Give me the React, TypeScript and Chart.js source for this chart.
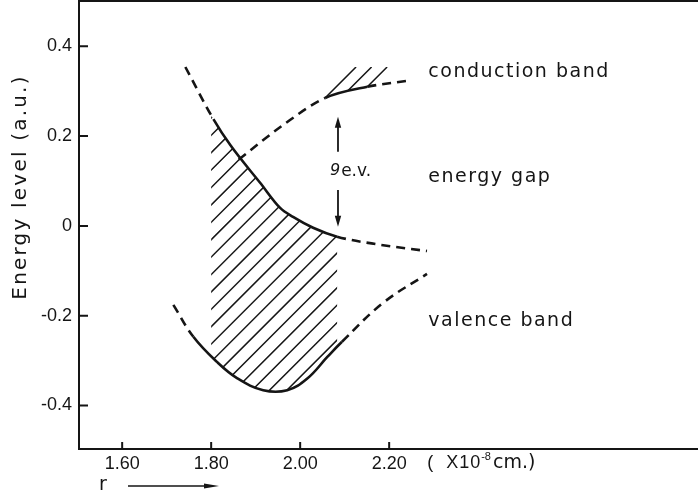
import React, { useEffect, useRef } from 'react';
import { Chart, registerables } from 'chart.js';

Chart.register(...registerables);

// ---- data ----
// upper curve: top edge of the filled (valence) band, falling with r
const upperX = [1.742, 1.805, 1.843, 1.910, 1.955, 1.984, 2.029, 2.083, 2.180, 2.285];
const upperY = [0.354, 0.238, 0.180, 0.096, 0.040, 0.020, -0.004, -0.024, -0.042, -0.056];
const upperSolid = [1, 7];

// conduction band lower edge
const condX = [1.862, 1.962, 2.056, 2.151, 2.240];
const condY = [0.148, 0.225, 0.285, 0.310, 0.323];
const condSolid = [2, 3];

// valence band lower edge (U shape)
const valX = [1.715, 1.760, 1.813, 1.858, 1.917, 1.971, 2.016, 2.061, 2.094, 2.187, 2.285];
const valY = [-0.176, -0.247, -0.303, -0.339, -0.366, -0.366, -0.340, -0.292, -0.258, -0.171, -0.107];
const valSolid = [1, 8];

// shaded region between the curves
const hatchRange = [1.80, 2.083];
const condHatchTop = 0.354;

const xTicks = [1.6, 1.8, 2.0, 2.2];
const xTickLabels = ['1.60', '1.80', '2.00', '2.20'];
const yTicks = [-0.4, -0.2, 0, 0.2, 0.4];
const yTickLabels = ['-0.4', '-0.2', '0', '0.2', '0.4'];

const bandLabels = ['conduction band', 'energy gap', 'valence band'];
const bandLabelX = [2.288, 2.288, 2.288];
const bandLabelY = [0.332, 0.098, -0.224];
const gapLabel = 'e.v.';
const gapValue = '9';

// ---- layout / style ----
const W = 698;
const H = 499;
const X_MIN = 1.503;
const X_MAX = 2.894;
const Y_MIN = -0.497;
const Y_MAX = 0.501;
const INK = '#151515';
const LETTER = '"DejaVu Sans", "Liberation Sans", sans-serif';
const TICKFONT = '"Liberation Sans Narrow", "Liberation Sans", sans-serif';
const DASH = [9, 6];
const HATCH_STEP = 17.4;

const seg = (solid: number[]) => ({
  borderDash: (c: any) =>
    c.p0DataIndex >= solid[0] && c.p1DataIndex <= solid[1] ? [] : DASH,
});

const makeDs = (xs: number[], ys: number[], solid: number[], smooth: 'monotone' | 'default') => ({
  data: xs.map((x, i) => ({ x, y: ys[i] })),
  borderColor: INK,
  borderWidth: 2.6,
  pointRadius: 0,
  fill: false,
  cubicInterpolationMode: smooth,
  tension: 0.4,
  borderDash: [] as number[],
  borderCapStyle: 'butt' as const,
  segment: seg(solid),
});

// trace the library's (already computed) bezier curve through the points
function tracePoints(ctx: CanvasRenderingContext2D, pts: any[], from: number, to: number) {
  for (let i = from; i <= to; i++) {
    const p = pts[i];
    if (i === from) {
      ctx.moveTo(p.x, p.y);
    } else {
      const q = pts[i - 1];
      ctx.bezierCurveTo(
        q.cp2x ?? q.x, q.cp2y ?? q.y,
        p.cp1x ?? p.x, p.cp1y ?? p.y,
        p.x, p.y,
      );
    }
  }
}

function strokeHatch(ctx: CanvasRenderingContext2D, c0: number, step: number, l: number, t: number, r: number, b: number) {
  const cMin = l + t;
  const cMax = r + b;
  let c = c0 - Math.ceil((c0 - cMin) / step) * step;
  ctx.beginPath();
  for (; c <= cMax; c += step) {
    ctx.moveTo(c - b, b);
    ctx.lineTo(c - t, t);
  }
  ctx.stroke();
}

const hatchPlugin = {
  id: 'hatch',
  afterDatasetsDraw(chart: any) {
    const { ctx, chartArea: a, scales } = chart;
    const xs = scales.x;
    const ys = scales.y;
    const up = chart.getDatasetMeta(0).dataset;
    const cond = chart.getDatasetMeta(1).dataset;
    const lo = chart.getDatasetMeta(2).dataset;
    [up, cond, lo].forEach((l: any) => l.updateControlPoints(a, 'x'));
    ctx.save();
    ctx.strokeStyle = INK;
    ctx.lineWidth = 1.5;
    // main shaded band between the falling curve and the U curve
    const x0 = xs.getPixelForValue(hatchRange[0]);
    const x1 = xs.getPixelForValue(hatchRange[1]);
    const pu = up.points;
    const pl = lo.points;
    ctx.save();
    ctx.beginPath();
    ctx.rect(x0, a.top, x1 - x0, a.bottom - a.top);
    ctx.clip();
    ctx.beginPath();
    tracePoints(ctx, pu, 0, pu.length - 1);
    ctx.lineTo(pu[pu.length - 1].x, a.bottom);
    ctx.lineTo(pu[0].x, a.bottom);
    ctx.closePath();
    ctx.clip();
    ctx.beginPath();
    tracePoints(ctx, pl, 0, pl.length - 1);
    ctx.lineTo(pl[pl.length - 1].x, a.top);
    ctx.lineTo(pl[0].x, a.top);
    ctx.closePath();
    ctx.clip();
    const phase = x0 + ys.getPixelForValue(0.163);
    strokeHatch(ctx, phase, HATCH_STEP, x0, a.top, x1, a.bottom);
    ctx.restore();

    // small shaded strip above the conduction band edge
    const pc = cond.points;
    const pA = pc[condSolid[0]];
    const pB = pc[condSolid[1]];
    const yT = ys.getPixelForValue(condHatchTop);
    ctx.save();
    ctx.beginPath();
    tracePoints(ctx, pc, condSolid[0], condSolid[1]);
    ctx.lineTo(pB.x + 40, pB.y);
    ctx.lineTo(pB.x + 40, yT);
    ctx.lineTo(pA.x - 5, yT);
    ctx.lineTo(pA.x - 5, pA.y);
    ctx.closePath();
    ctx.clip();
    const cA = pA.x + pA.y;
    const cB = pB.x + pB.y;
    const st = (cB - cA) / 2;
    ctx.beginPath();
    for (let k = 0; k <= 2; k++) {
      const c = cA + k * st;
      ctx.moveTo(c - (pA.y + 4), pA.y + 4);
      ctx.lineTo(c - yT, yT);
    }
    ctx.stroke();
    ctx.restore();
    ctx.restore();
  },
};

function arrow(ctx: CanvasRenderingContext2D, x: number, yFrom: number, yTo: number) {
  const dir = yTo < yFrom ? -1 : 1;
  ctx.beginPath();
  ctx.moveTo(x, yFrom);
  ctx.lineTo(x, yTo - dir * 8);
  ctx.stroke();
  ctx.beginPath();
  ctx.moveTo(x, yTo);
  ctx.lineTo(x - 3.2, yTo - dir * 11);
  ctx.lineTo(x + 3.2, yTo - dir * 11);
  ctx.closePath();
  ctx.fill();
}

const decorPlugin = {
  id: 'decor',
  afterDraw(chart: any) {
    const { ctx, chartArea: a, scales } = chart;
    const xs = scales.x;
    const ys = scales.y;
    ctx.save();
    ctx.strokeStyle = INK;
    ctx.fillStyle = INK;
    // top frame line
    ctx.lineWidth = 2;
    ctx.beginPath();
    ctx.moveTo(a.left - 1, a.top);
    ctx.lineTo(a.right, a.top);
    ctx.stroke();
    // inward tick marks
    ctx.beginPath();
    yTicks.forEach((v) => {
      const py = ys.getPixelForValue(v);
      ctx.moveTo(a.left, py);
      ctx.lineTo(a.left + 9, py);
    });
    xTicks.forEach((v) => {
      const px = xs.getPixelForValue(v);
      ctx.moveTo(px, a.bottom);
      ctx.lineTo(px, a.bottom - 7);
    });
    ctx.stroke();

    // y-axis title
    (ctx as any).letterSpacing = '2.2px';
    ctx.font = `20px ${LETTER}`;
    ctx.save();
    ctx.translate(21, 187);
    ctx.rotate(-Math.PI / 2);
    ctx.textAlign = 'center';
    ctx.textBaseline = 'middle';
    ctx.fillText('Energy level (a.u.)', 0, 0);
    ctx.restore();

    // band labels
    (ctx as any).letterSpacing = '1.5px';
    ctx.textAlign = 'left';
    ctx.textBaseline = 'alphabetic';
    ctx.font = `19px ${LETTER}`;
    bandLabels.forEach((t, i) => {
      ctx.fillText(t, xs.getPixelForValue(bandLabelX[i]), ys.getPixelForValue(bandLabelY[i]));
    });

    // energy gap arrows and value
    const ax = xs.getPixelForValue(2.085);
    ctx.lineWidth = 1.8;
    arrow(ctx, ax, ys.getPixelForValue(0.165), ys.getPixelForValue(0.243));
    arrow(ctx, ax, ys.getPixelForValue(0.080), ys.getPixelForValue(-0.002));
    (ctx as any).letterSpacing = '0px';
    const gx = xs.getPixelForValue(2.067);
    const gy = ys.getPixelForValue(0.111);
    ctx.font = `italic 16px ${LETTER}`;
    ctx.fillText(gapValue, gx, gy - 1);
    const w9 = ctx.measureText(gapValue).width;
    ctx.font = `17px ${LETTER}`;
    ctx.fillText(gapLabel, gx + w9 + 1, gy);

    // x unit label
    const uy = a.bottom + 14;
    let ux = xs.getPixelForValue(2.2) + 38;
    (ctx as any).letterSpacing = '1px';
    ctx.font = `18px ${TICKFONT}`;
    ctx.textBaseline = 'middle';
    ctx.fillText('(  X10', ux, uy);
    ux += ctx.measureText('(  X10').width;
    (ctx as any).letterSpacing = '0px';
    ctx.font = `11px ${TICKFONT}`;
    ctx.fillText('-8', ux, uy - 6);
    ux += ctx.measureText('-8').width + 2;
    ctx.font = `19px ${LETTER}`;
    ctx.fillText('cm.)', ux, uy);

    // r ----->
    ctx.textBaseline = 'alphabetic';
    const ry = a.bottom + 37;
    ctx.font = `19px ${LETTER}`;
    ctx.fillText('r', 99, a.bottom + 41);
    ctx.lineWidth = 1.4;
    ctx.beginPath();
    ctx.moveTo(128, ry);
    ctx.lineTo(210, ry);
    ctx.stroke();
    ctx.beginPath();
    ctx.moveTo(219, ry);
    ctx.lineTo(204, ry - 2.5);
    ctx.lineTo(204, ry + 2.5);
    ctx.closePath();
    ctx.fill();
    ctx.restore();
  },
};

export default function App() {
  const ref = useRef<HTMLCanvasElement | null>(null);
  useEffect(() => {
    document.body.style.margin = '0';
    const canvas = ref.current;
    if (!canvas) return;
    const tickFont = { family: TICKFONT, size: 18 };
    const chart = new Chart(canvas, {
      type: 'line',
      data: {
        datasets: [
          makeDs(upperX, upperY, upperSolid, 'monotone'),
          makeDs(condX, condY, condSolid, 'monotone'),
          makeDs(valX, valY, valSolid, 'default'),
        ] as any,
      },
      options: {
        animation: false,
        responsive: false,
        maintainAspectRatio: false,
        events: [],
        layout: { padding: { top: 1, left: 0, right: 0, bottom: 0 } },
        plugins: { legend: { display: false }, tooltip: { enabled: false } },
        scales: {
          x: {
            type: 'linear',
            min: X_MIN,
            max: X_MAX,
            afterBuildTicks: (s: any) => {
              s.ticks = xTicks.map((v) => ({ value: v }));
            },
            afterFit: (s: any) => {
              s.height = 50;
              s.paddingLeft = 0;
              s.paddingRight = 0;
              s.paddingTop = 0;
              s.paddingBottom = 0;
            },
            grid: { display: false, drawTicks: false },
            border: { display: true, color: INK, width: 2 },
            ticks: {
              autoSkip: false,
              maxRotation: 0,
              padding: 4,
              color: INK,
              font: tickFont,
              callback: (_v: any, i: number) => xTickLabels[i],
            },
          },
          y: {
            type: 'linear',
            min: Y_MIN,
            max: Y_MAX,
            afterBuildTicks: (s: any) => {
              s.ticks = yTicks.map((v) => ({ value: v }));
            },
            afterFit: (s: any) => {
              s.width = 79;
              s.paddingLeft = 0;
              s.paddingRight = 0;
              s.paddingTop = 0;
              s.paddingBottom = 0;
            },
            grid: { display: false, drawTicks: false },
            border: { display: true, color: INK, width: 2 },
            ticks: {
              autoSkip: false,
              padding: 7,
              color: INK,
              font: tickFont,
              callback: (_v: any, i: number) => yTickLabels[i],
            },
          },
        },
      } as any,
      plugins: [hatchPlugin, decorPlugin],
    });
    return () => chart.destroy();
  }, []);
  return (
    <div style={{ width: W, height: H, background: '#fff' }}>
      <canvas ref={ref} width={W} height={H} style={{ display: 'block' }} />
    </div>
  );
}
